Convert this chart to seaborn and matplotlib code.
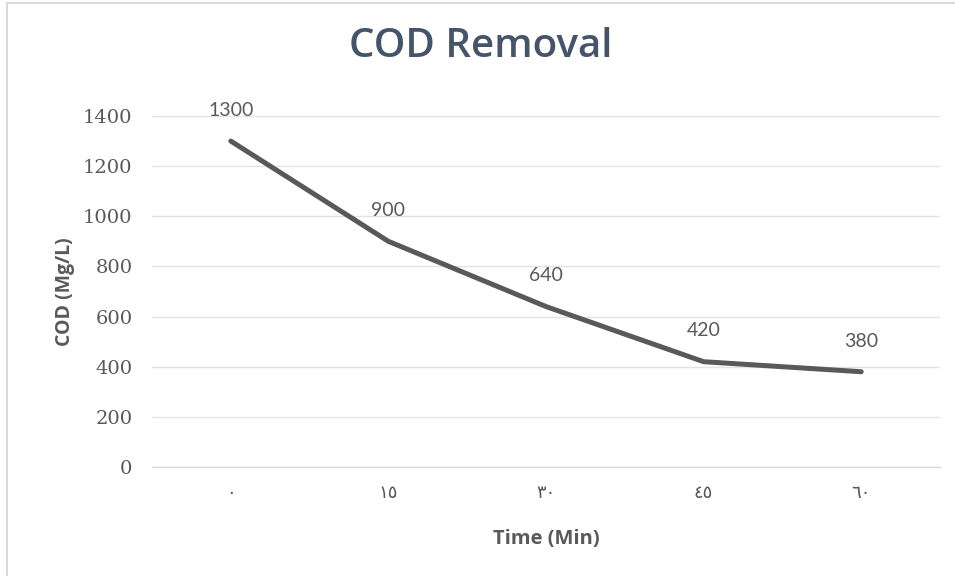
import matplotlib
matplotlib.use("Agg")
import matplotlib.pyplot as plt
import seaborn as sns
import pandas as pd
from matplotlib.patches import Rectangle

# Data
time_labels = ["٠", "١٥", "٣٠", "٤٥", "٦٠"]
cod_values = [1300, 900, 640, 420, 380]
y_ticks = [0, 200, 400, 600, 800, 1000, 1200, 1400]

df = pd.DataFrame({"pos": list(range(len(time_labels))), "cod": cod_values})

sns.set_theme(style="white")
plt.rcParams["font.family"] = ["Open Sans", "DejaVu Sans"]

fig = plt.figure(figsize=(9.55, 5.76), dpi=100)
ax = fig.add_axes([152 / 955, (576 - 467) / 576, (940 - 152) / 955, (467 - 116) / 576])

sns.lineplot(data=df, x="pos", y="cod", ax=ax, color="#595959", linewidth=3.6)

# data labels
for x, y in zip(df["pos"], df["cod"]):
    ax.annotate(str(y), (x, y), xytext=(0, 16), textcoords="offset points",
                ha="center", va="bottom", fontsize=14, color="#595959",
                family=["Lato", "DejaVu Sans"])

ax.set_ylim(0, 1400)
ax.set_yticks(y_ticks)
ax.set_yticklabels([str(v) for v in y_ticks], fontsize=14, color="#595959",
                   family=["DejaVu Serif"])
ax.yaxis.grid(True, color="#E3E3E3", linewidth=1)
ax.tick_params(axis="y", length=0, pad=14)

ax.set_xlim(-0.5, len(time_labels) - 0.5)
ax.set_xticks(df["pos"])
ax.set_xticklabels(time_labels, fontsize=13, color="#595959", family=["DejaVu Sans"])
ax.set_xticks([p - 0.5 for p in range(len(time_labels) + 1)], minor=True)
ax.tick_params(axis="x", which="major", length=0, pad=12)
ax.tick_params(axis="x", which="minor", length=6, color="#D9D9D9", width=1)

for s in ["top", "right", "left"]:
    ax.spines[s].set_visible(False)
ax.spines["bottom"].set_color("#D9D9D9")
ax.spines["bottom"].set_linewidth(1)

ax.set_xlabel("Time (Min)", fontsize=14.5, fontweight="bold", color="#595959", labelpad=20)
ax.set_ylabel("COD (Mg/L)", fontsize=14, fontweight="bold", color="#595959", labelpad=6)

fig.text(0.503, 0.918, "COD Removal", ha="center", va="center", fontsize=29,
         fontweight="semibold", color="#44546A")

# light chart-area border
fig.patches.append(Rectangle((7 / 955, -0.1), 1.2, (576 - 3) / 576 + 0.1,
                             transform=fig.transFigure, fill=False,
                             edgecolor="#D9D9D9", linewidth=1.5))

fig.savefig("out.png", dpi=100)
